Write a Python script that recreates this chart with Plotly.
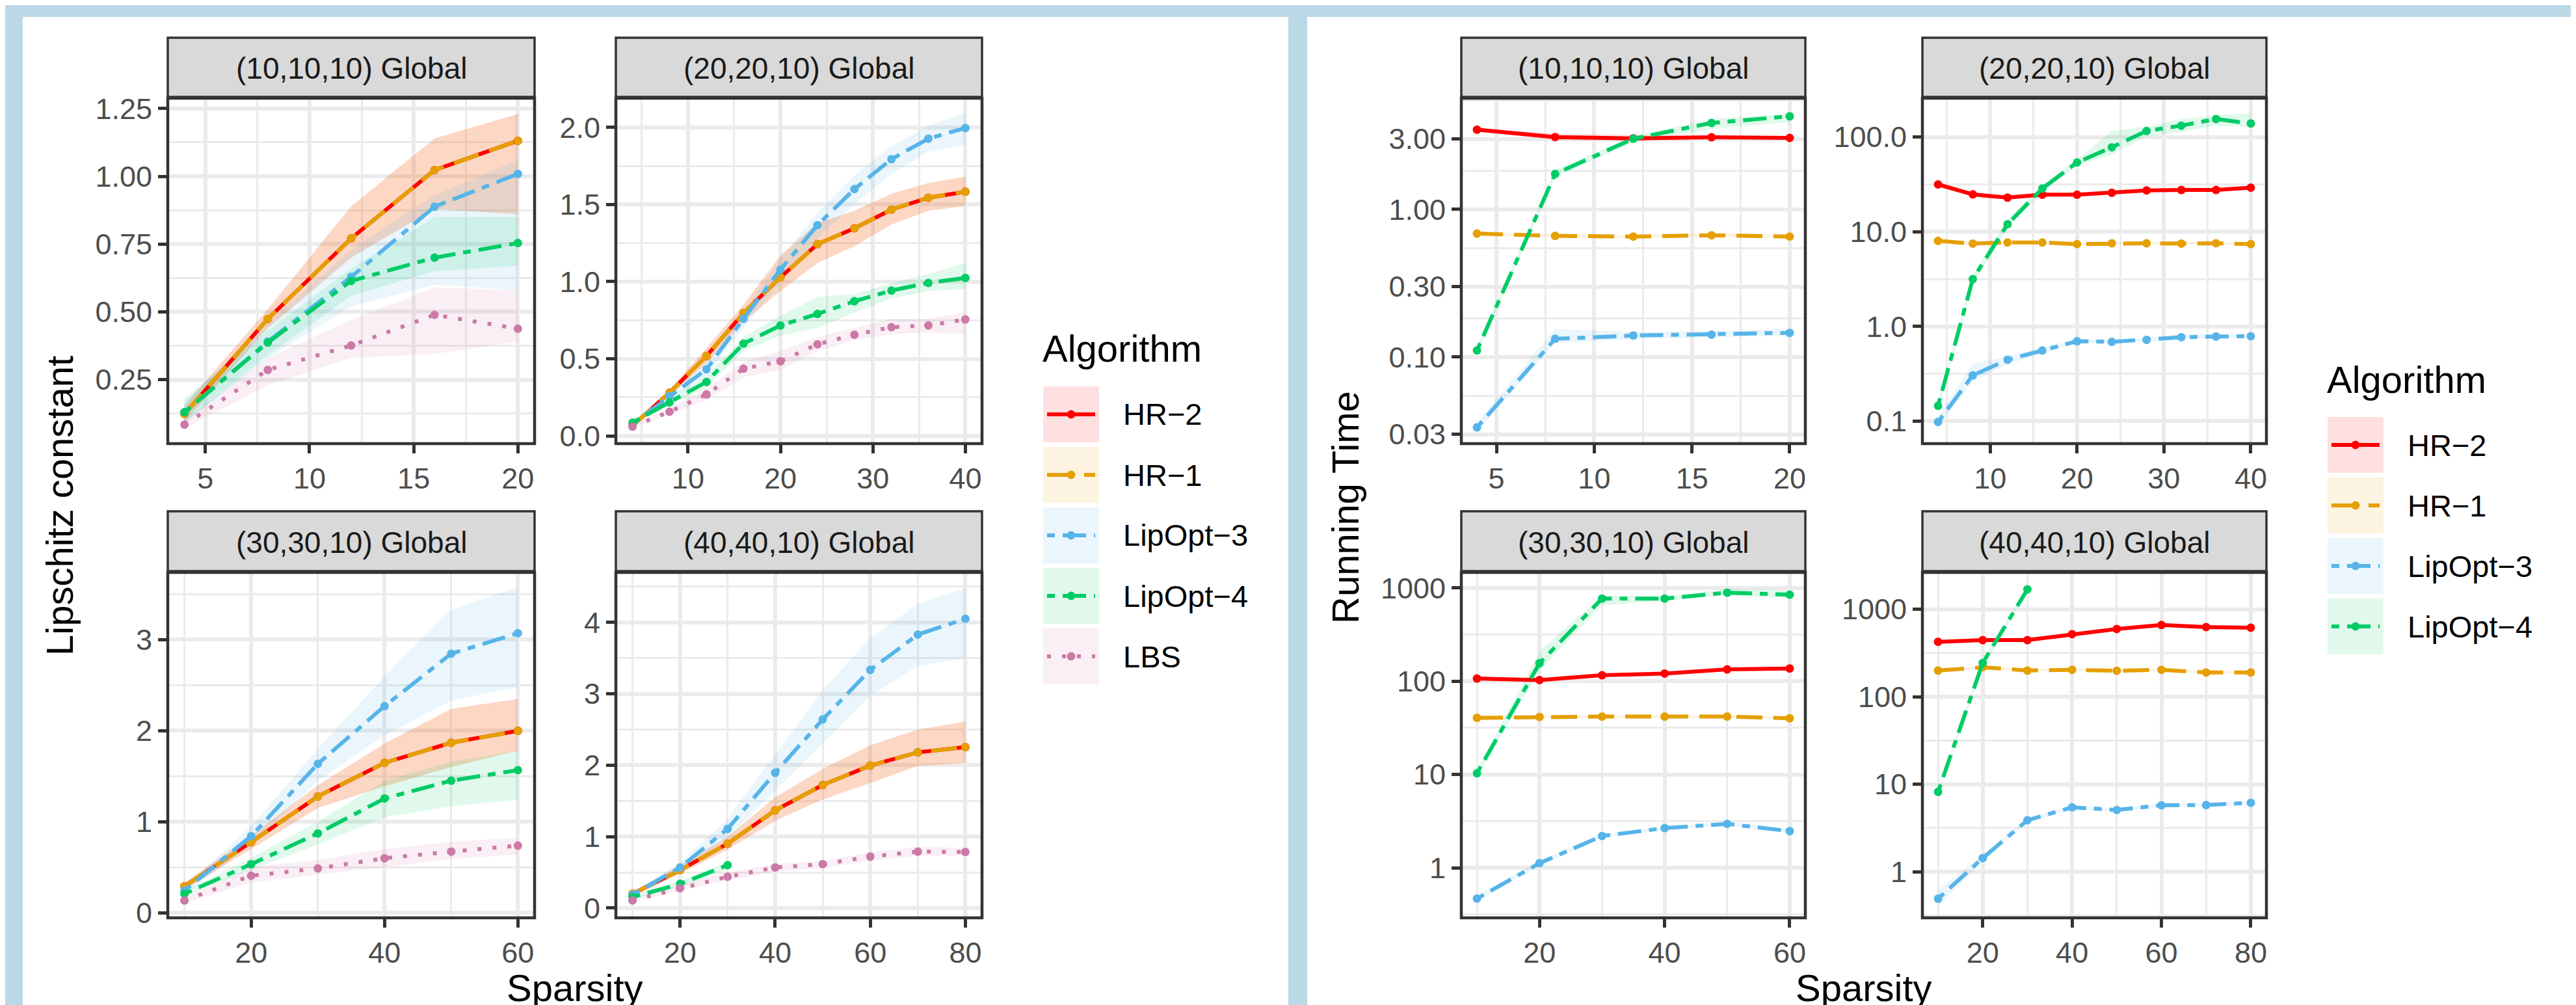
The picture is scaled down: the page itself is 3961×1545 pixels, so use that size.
import math
import plotly.graph_objects as go

# ======================= DATA =======================
ALGS = ["HR−2", "HR−1", "LipOpt−3", "LipOpt−4", "LBS"]
STRIPS = ["(10,10,10) Global", "(20,20,10) Global", "(30,30,10) Global", "(40,40,10) Global"]

# ---- Lipschitz constant (left block) ----
lip10_x = [4, 8, 12, 16, 20]
lip10_hr2 = [0.124, 0.474, 0.771, 1.023, 1.131]
lip10_hr2_lo = [0.095, 0.44, 0.70, 0.88, 0.86]
lip10_hr2_hi = [0.155, 0.51, 0.89, 1.14, 1.23]
lip10_hr1 = [0.124, 0.474, 0.771, 1.023, 1.131]
lip10_hr1_lo = [0.095, 0.44, 0.70, 0.88, 0.86]
lip10_hr1_hi = [0.155, 0.51, 0.89, 1.14, 1.23]
lip10_lo3 = [0.13, 0.39, 0.629, 0.888, 1.009]
lip10_lo3_lo = [0.09, 0.33, 0.52, 0.60, 0.58]
lip10_lo3_hi = [0.17, 0.46, 0.73, 0.93, 1.06]
lip10_lo4 = [0.13, 0.387, 0.614, 0.70, 0.754]
lip10_lo4_lo = [0.09, 0.34, 0.56, 0.65, 0.67]
lip10_lo4_hi = [0.18, 0.43, 0.66, 0.85, 0.85]
lip10_lbs = [0.084, 0.286, 0.376, 0.489, 0.438]
lip10_lbs_lo = [0.07, 0.23, 0.33, 0.345, 0.39]
lip10_lbs_hi = [0.10, 0.33, 0.47, 0.59, 0.58]

lip20_x = [4, 8, 12, 16, 20, 24, 28, 32, 36, 40]
lip20_hr2 = [0.067, 0.280, 0.518, 0.796, 1.028, 1.243, 1.346, 1.467, 1.544, 1.583]
lip20_hr2_lo = [0.055, 0.26, 0.47, 0.74, 0.94, 1.12, 1.23, 1.37, 1.46, 1.49]
lip20_hr2_hi = [0.08, 0.30, 0.57, 0.85, 1.17, 1.38, 1.46, 1.57, 1.64, 1.68]
lip20_hr1 = [0.067, 0.280, 0.518, 0.796, 1.028, 1.243, 1.346, 1.467, 1.544, 1.583]
lip20_hr1_lo = [0.055, 0.26, 0.47, 0.74, 0.94, 1.12, 1.23, 1.37, 1.46, 1.49]
lip20_hr1_hi = [0.08, 0.30, 0.57, 0.85, 1.17, 1.38, 1.46, 1.57, 1.64, 1.68]
lip20_lo3 = [0.077, 0.258, 0.432, 0.759, 1.078, 1.366, 1.600, 1.794, 1.927, 1.996]
lip20_lo3_lo = [0.065, 0.23, 0.39, 0.70, 0.99, 1.28, 1.50, 1.70, 1.84, 1.89]
lip20_lo3_hi = [0.09, 0.28, 0.47, 0.80, 1.15, 1.45, 1.69, 1.88, 2.01, 2.09]
lip20_lo4 = [0.086, 0.217, 0.350, 0.598, 0.716, 0.791, 0.873, 0.942, 0.992, 1.024]
lip20_lo4_lo = [0.075, 0.20, 0.31, 0.55, 0.65, 0.70, 0.80, 0.89, 0.94, 0.95]
lip20_lo4_hi = [0.095, 0.24, 0.39, 0.64, 0.78, 0.90, 0.92, 0.99, 1.05, 1.12]
lip20_lbs = [0.060, 0.157, 0.269, 0.436, 0.484, 0.594, 0.656, 0.705, 0.716, 0.755]
lip20_lbs_lo = [0.05, 0.14, 0.23, 0.38, 0.43, 0.55, 0.62, 0.66, 0.67, 0.66]
lip20_lbs_hi = [0.07, 0.18, 0.31, 0.48, 0.55, 0.64, 0.70, 0.76, 0.76, 0.80]

lip30_x = [10, 20, 30, 40, 50, 60]
lip30_hr2 = [0.290, 0.776, 1.277, 1.647, 1.868, 1.999]
lip30_hr2_lo = [0.25, 0.70, 1.15, 1.39, 1.60, 1.78]
lip30_hr2_hi = [0.33, 0.85, 1.40, 1.86, 2.24, 2.35]
lip30_hr1 = [0.290, 0.776, 1.277, 1.647, 1.868, 1.999]
lip30_hr1_lo = [0.25, 0.70, 1.15, 1.39, 1.60, 1.78]
lip30_hr1_hi = [0.33, 0.85, 1.40, 1.86, 2.24, 2.35]
lip30_lo3 = [0.243, 0.841, 1.636, 2.270, 2.847, 3.072]
lip30_lo3_lo = [0.20, 0.75, 1.45, 1.95, 2.33, 2.48]
lip30_lo3_hi = [0.28, 0.95, 1.80, 2.60, 3.33, 3.58]
lip30_lo4 = [0.207, 0.533, 0.871, 1.255, 1.451, 1.567]
lip30_lo4_lo = [0.18, 0.47, 0.75, 1.05, 1.17, 1.24]
lip30_lo4_hi = [0.24, 0.60, 1.00, 1.45, 1.66, 1.78]
lip30_lbs = [0.134, 0.406, 0.486, 0.598, 0.671, 0.736]
lip30_lbs_lo = [0.11, 0.33, 0.42, 0.50, 0.59, 0.64]
lip30_lbs_hi = [0.17, 0.50, 0.58, 0.70, 0.78, 0.82]

lip40_x = [10, 20, 30, 40, 50, 60, 70, 80]
lip40_x_lo4 = [10, 20, 30]
lip40_hr2 = [0.199, 0.532, 0.902, 1.368, 1.723, 1.995, 2.180, 2.254]
lip40_hr2_lo = [0.17, 0.48, 0.82, 1.22, 1.52, 1.75, 1.99, 2.03]
lip40_hr2_hi = [0.23, 0.60, 1.00, 1.55, 1.95, 2.28, 2.50, 2.61]
lip40_hr1 = [0.199, 0.532, 0.902, 1.368, 1.723, 1.995, 2.180, 2.254]
lip40_hr1_lo = [0.17, 0.48, 0.82, 1.22, 1.52, 1.75, 1.99, 2.03]
lip40_hr1_hi = [0.23, 0.60, 1.00, 1.55, 1.95, 2.28, 2.50, 2.61]
lip40_lo3 = [0.186, 0.568, 1.109, 1.894, 2.642, 3.335, 3.830, 4.051]
lip40_lo3_lo = [0.15, 0.50, 0.98, 1.65, 2.30, 2.97, 3.39, 3.50]
lip40_lo3_hi = [0.22, 0.64, 1.25, 2.15, 3.05, 3.78, 4.26, 4.48]
lip40_lo4 = [0.153, 0.338, 0.601]
lip40_lo4_lo = [0.13, 0.29, 0.54]
lip40_lo4_hi = [0.18, 0.38, 0.65]
lip40_lbs = [0.107, 0.278, 0.439, 0.568, 0.615, 0.721, 0.790, 0.786]
lip40_lbs_lo = [0.09, 0.24, 0.39, 0.51, 0.56, 0.66, 0.73, 0.73]
lip40_lbs_hi = [0.13, 0.33, 0.50, 0.62, 0.66, 0.78, 0.86, 0.84]

# ---- Running time (right block) ----
rt10_x = [4, 8, 12, 16, 20]
rt10_hr2 = [3.47, 3.09, 3.03, 3.08, 3.05]
rt10_hr2_lo = [3.35, 2.95, 2.90, 3.00, 3.00]
rt10_hr2_hi = [3.60, 3.25, 3.20, 3.15, 3.10]
rt10_hr1 = [0.686, 0.662, 0.655, 0.668, 0.655]
rt10_hr1_lo = [0.67, 0.645, 0.64, 0.65, 0.64]
rt10_hr1_hi = [0.70, 0.68, 0.67, 0.69, 0.67]
rt10_lo3 = [0.0334, 0.133, 0.140, 0.142, 0.146]
rt10_lo3_lo = [0.031, 0.125, 0.132, 0.136, 0.140]
rt10_lo3_hi = [0.036, 0.155, 0.148, 0.150, 0.155]
rt10_lo4 = [0.111, 1.74, 3.01, 3.85, 4.27]
rt10_lo4_lo = [0.105, 1.65, 2.85, 3.50, 3.90]
rt10_lo4_hi = [0.118, 1.85, 3.15, 4.10, 4.45]

rt20_x = [4, 8, 12, 16, 20, 24, 28, 32, 36, 40]
rt20_hr2 = [31.6, 24.8, 22.9, 24.6, 24.6, 25.8, 27.3, 27.6, 27.6, 29.2]
rt20_hr2_lo = [29.5, 23.5, 22.0, 23.5, 24.0, 25.0, 26.5, 27.0, 27.0, 28.2]
rt20_hr2_hi = [33.0, 26.0, 24.0, 26.0, 25.5, 26.5, 28.5, 28.5, 28.5, 30.0]
rt20_hr1 = [8.0, 7.5, 7.7, 7.7, 7.4, 7.55, 7.55, 7.5, 7.55, 7.4]
rt20_hr1_lo = [7.7, 7.2, 7.5, 7.5, 7.2, 7.3, 7.3, 7.3, 7.3, 7.2]
rt20_hr1_hi = [8.3, 7.8, 7.9, 7.9, 7.6, 7.8, 7.8, 7.8, 7.8, 7.6]
rt20_lo3 = [0.098, 0.304, 0.444, 0.557, 0.698, 0.687, 0.722, 0.769, 0.782, 0.787]
rt20_lo3_lo = [0.088, 0.26, 0.40, 0.52, 0.67, 0.66, 0.69, 0.74, 0.75, 0.76]
rt20_lo3_hi = [0.11, 0.40, 0.49, 0.60, 0.73, 0.72, 0.76, 0.83, 0.82, 0.82]
rt20_lo4 = [0.145, 3.16, 12.0, 28.6, 53.9, 78.0, 116.0, 132.0, 155.0, 139.0]
rt20_lo4_lo = [0.13, 2.8, 10.8, 26.0, 50.0, 65.0, 101.0, 113.0, 132.0, 128.0]
rt20_lo4_hi = [0.16, 3.5, 13.5, 31.0, 58.0, 116.0, 128.0, 155.0, 170.0, 177.0]

rt30_x = [10, 20, 30, 40, 50, 60]
rt30_hr2 = [107, 103, 116, 121, 134, 137]
rt30_hr2_lo = [102, 99, 112, 117, 130, 133]
rt30_hr2_hi = [112, 107, 121, 125, 139, 142]
rt30_hr1 = [40.5, 41.4, 41.8, 41.8, 41.8, 40.1]
rt30_hr1_lo = [39.0, 40.0, 40.4, 40.5, 40.5, 38.8]
rt30_hr1_hi = [42.0, 43.0, 43.3, 43.2, 43.0, 41.5]
rt30_lo3 = [0.467, 1.12, 2.19, 2.66, 2.96, 2.47]
rt30_lo3_lo = [0.44, 1.05, 2.10, 2.55, 2.85, 2.35]
rt30_lo3_hi = [0.50, 1.20, 2.30, 2.75, 3.10, 2.60]
rt30_lo4 = [10.3, 156, 770, 770, 892, 849]
rt30_lo4_lo = [9.6, 130, 650, 730, 830, 780]
rt30_lo4_hi = [11.0, 210, 830, 810, 980, 950]

rt40_x = [10, 20, 30, 40, 50, 60, 70, 80]
rt40_x_lo4 = [10, 20, 30]
rt40_hr2 = [424, 443, 443, 518, 594, 660, 625, 615]
rt40_hr2_lo = [410, 428, 428, 500, 575, 640, 605, 598]
rt40_hr2_hi = [440, 460, 460, 535, 615, 685, 645, 635]
rt40_hr1 = [199, 217, 199, 203, 198, 203, 189, 189]
rt40_hr1_lo = [193, 210, 193, 197, 192, 197, 183, 183]
rt40_hr1_hi = [205, 224, 206, 209, 204, 209, 195, 195]
rt40_lo3 = [0.492, 1.43, 3.88, 5.44, 5.08, 5.74, 5.78, 6.13]
rt40_lo3_lo = [0.40, 1.32, 3.65, 5.20, 4.85, 5.50, 5.55, 5.85]
rt40_lo3_hi = [0.62, 1.55, 4.10, 5.70, 5.30, 6.00, 6.00, 6.40]
rt40_lo4 = [8.18, 243, 1683]
rt40_lo4_lo = [7.8, 215, 1620]
rt40_lo4_hi = [8.6, 270, 1750]

# ---- tick labels ----
lip_yticks = [[0.25, 0.5, 0.75, 1.0, 1.25], [0.0, 0.5, 1.0, 1.5, 2.0], [0, 1, 2, 3], [0, 1, 2, 3, 4]]
lip_yticktext = [["0.25", "0.50", "0.75", "1.00", "1.25"], ["0.0", "0.5", "1.0", "1.5", "2.0"],
                 ["0", "1", "2", "3"], ["0", "1", "2", "3", "4"]]
rt_yticks = [[0.03, 0.1, 0.3, 1, 3], [0.1, 1, 10, 100], [1, 10, 100, 1000], [1, 10, 100, 1000]]
rt_yticktext = [["0.03", "0.10", "0.30", "1.00", "3.00"], ["0.1", "1.0", "10.0", "100.0"],
                ["1", "10", "100", "1000"], ["1", "10", "100", "1000"]]
xticks = [[5, 10, 15, 20], [10, 20, 30, 40], [20, 40, 60], [20, 40, 60, 80]]

# ======================= STYLE =======================
W, H = 3961, 1545
FONT = "Liberation Sans, Arial, Helvetica, sans-serif"
COLORS = {"HR−2": "#FF0000", "HR−1": "#E69F00", "LipOpt−3": "#56B4E9", "LipOpt−4": "#00CC66", "LBS": "#CC79A7"}
RGB = {"HR−2": (255, 0, 0), "HR−1": (230, 159, 0), "LipOpt−3": (86, 180, 233), "LipOpt−4": (0, 204, 102), "LBS": (204, 121, 167)}
DASH = {"HR−2": "solid", "HR−1": "40px,17px", "LipOpt−3": "12px,12px,36px,12px",
        "LipOpt−4": "12px,12px,36px,12px", "LBS": "6px,17px"}
ALPHA = 0.12
LW = 6
MS = 13
BG = "#BBD8E6"

def fill(alg):
    r, g, b = RGB[alg]
    return f"rgba({r},{g},{b},{ALPHA})"

def fx(p):
    return p / W

def fy(p):
    return 1 - p / H

# panel pixel boxes (left, right, top, bottom)
PANELS = [(250, 814, 143, 674), (939, 1502, 143, 674), (250, 814, 872, 1403), (939, 1502, 872, 1403),
          (2239, 2768, 143, 674), (2948, 3477, 143, 674), (2239, 2768, 872, 1403), (2948, 3477, 872, 1403)]
STRIP_Y = [(50, 141), (50, 141), (778, 870), (778, 870)] * 2
XRANGES = [[3.2, 20.8], [2.2, 41.8], [7.5, 62.5], [6.5, 83.5]]
LIP_YRANGES = [[0.014, 1.288], [-0.050, 2.189], [-0.057, 3.74], [-0.137, 4.70]]
RT_YRANGES = [[-1.586, 0.753], [-1.238, 2.41], [-0.537, 3.167], [-0.527, 3.42]]

# ======================= SERIES TABLE =======================
lip_series = [
    [("HR−2", lip10_x, lip10_hr2, lip10_hr2_lo, lip10_hr2_hi), ("HR−1", lip10_x, lip10_hr1, lip10_hr1_lo, lip10_hr1_hi),
     ("LipOpt−3", lip10_x, lip10_lo3, lip10_lo3_lo, lip10_lo3_hi), ("LipOpt−4", lip10_x, lip10_lo4, lip10_lo4_lo, lip10_lo4_hi),
     ("LBS", lip10_x, lip10_lbs, lip10_lbs_lo, lip10_lbs_hi)],
    [("HR−2", lip20_x, lip20_hr2, lip20_hr2_lo, lip20_hr2_hi), ("HR−1", lip20_x, lip20_hr1, lip20_hr1_lo, lip20_hr1_hi),
     ("LipOpt−3", lip20_x, lip20_lo3, lip20_lo3_lo, lip20_lo3_hi), ("LipOpt−4", lip20_x, lip20_lo4, lip20_lo4_lo, lip20_lo4_hi),
     ("LBS", lip20_x, lip20_lbs, lip20_lbs_lo, lip20_lbs_hi)],
    [("HR−2", lip30_x, lip30_hr2, lip30_hr2_lo, lip30_hr2_hi), ("HR−1", lip30_x, lip30_hr1, lip30_hr1_lo, lip30_hr1_hi),
     ("LipOpt−3", lip30_x, lip30_lo3, lip30_lo3_lo, lip30_lo3_hi), ("LipOpt−4", lip30_x, lip30_lo4, lip30_lo4_lo, lip30_lo4_hi),
     ("LBS", lip30_x, lip30_lbs, lip30_lbs_lo, lip30_lbs_hi)],
    [("HR−2", lip40_x, lip40_hr2, lip40_hr2_lo, lip40_hr2_hi), ("HR−1", lip40_x, lip40_hr1, lip40_hr1_lo, lip40_hr1_hi),
     ("LipOpt−3", lip40_x, lip40_lo3, lip40_lo3_lo, lip40_lo3_hi), ("LipOpt−4", lip40_x_lo4, lip40_lo4, lip40_lo4_lo, lip40_lo4_hi),
     ("LBS", lip40_x, lip40_lbs, lip40_lbs_lo, lip40_lbs_hi)],
]
rt_series = [
    [("HR−2", rt10_x, rt10_hr2, rt10_hr2_lo, rt10_hr2_hi), ("HR−1", rt10_x, rt10_hr1, rt10_hr1_lo, rt10_hr1_hi),
     ("LipOpt−3", rt10_x, rt10_lo3, rt10_lo3_lo, rt10_lo3_hi), ("LipOpt−4", rt10_x, rt10_lo4, rt10_lo4_lo, rt10_lo4_hi)],
    [("HR−2", rt20_x, rt20_hr2, rt20_hr2_lo, rt20_hr2_hi), ("HR−1", rt20_x, rt20_hr1, rt20_hr1_lo, rt20_hr1_hi),
     ("LipOpt−3", rt20_x, rt20_lo3, rt20_lo3_lo, rt20_lo3_hi), ("LipOpt−4", rt20_x, rt20_lo4, rt20_lo4_lo, rt20_lo4_hi)],
    [("HR−2", rt30_x, rt30_hr2, rt30_hr2_lo, rt30_hr2_hi), ("HR−1", rt30_x, rt30_hr1, rt30_hr1_lo, rt30_hr1_hi),
     ("LipOpt−3", rt30_x, rt30_lo3, rt30_lo3_lo, rt30_lo3_hi), ("LipOpt−4", rt30_x, rt30_lo4, rt30_lo4_lo, rt30_lo4_hi)],
    [("HR−2", rt40_x, rt40_hr2, rt40_hr2_lo, rt40_hr2_hi), ("HR−1", rt40_x, rt40_hr1, rt40_hr1_lo, rt40_hr1_hi),
     ("LipOpt−3", rt40_x, rt40_lo3, rt40_lo3_lo, rt40_lo3_hi), ("LipOpt−4", rt40_x_lo4, rt40_lo4, rt40_lo4_lo, rt40_lo4_hi)],
]
all_series = lip_series + rt_series

fig = go.Figure()

for i, series in enumerate(all_series):
    k = i + 1
    xa = "x" if k == 1 else f"x{k}"
    ya = "y" if k == 1 else f"y{k}"
    for alg, xs, ys, lo, hi in series:
        fig.add_trace(go.Scatter(x=list(xs) + list(xs)[::-1], y=list(hi) + list(lo)[::-1], xaxis=xa, yaxis=ya,
                                 mode="lines", fill="toself", fillcolor=fill(alg), line=dict(width=0),
                                 hoverinfo="skip", showlegend=False))
    for alg, xs, ys, lo, hi in series:
        fig.add_trace(go.Scatter(x=xs, y=ys, xaxis=xa, yaxis=ya, mode="lines+markers", name=alg,
                                 line=dict(color=COLORS[alg], width=LW, dash=DASH[alg]),
                                 marker=dict(color=COLORS[alg], size=MS), showlegend=False))

# ======================= AXES =======================
GRID = "#EBEBEB"
TICKFONT = dict(family=FONT, size=45, color="#4D4D4D")

def minor_lin(ticks):
    step = ticks[1] - ticks[0]
    return [ticks[0] - step / 2] + [t + step / 2 for t in ticks]

def minor_log(ticks):
    ratio = ticks[1] / ticks[0]
    return [ticks[0] / math.sqrt(ratio)] + [t * math.sqrt(ratio) for t in ticks]

layout_axes = {}
for i in range(8):
    k = i + 1
    xl, xr, yt, yb = PANELS[i]
    facet = i % 4
    xkey = "xaxis" if k == 1 else f"xaxis{k}"
    ykey = "yaxis" if k == 1 else f"yaxis{k}"
    xa = "x" if k == 1 else f"x{k}"
    ya = "y" if k == 1 else f"y{k}"
    common = dict(showgrid=True, gridcolor=GRID, gridwidth=5.5, zeroline=False, showline=False,
                  ticks="outside", ticklen=14, tickwidth=4.5, tickcolor="#333333", automargin=False,
                  tickfont=TICKFONT, tickmode="array", fixedrange=True)
    layout_axes[xkey] = dict(common, domain=[fx(xl), fx(xr)], anchor=ya, range=XRANGES[facet],
                             tickvals=xticks[facet], ticktext=[str(v) for v in xticks[facet]],
                             minor=dict(tickmode="array", tickvals=minor_lin(xticks[facet]), showgrid=True,
                                        gridcolor=GRID, gridwidth=3, ticks=""))
    if i < 4:
        layout_axes[ykey] = dict(common, domain=[fy(yb), fy(yt)], anchor=xa, range=LIP_YRANGES[facet],
                                 tickvals=lip_yticks[facet], ticktext=lip_yticktext[facet],
                                 minor=dict(tickmode="array", tickvals=minor_lin(lip_yticks[facet]), showgrid=True,
                                            gridcolor=GRID, gridwidth=3, ticks=""))
    else:
        layout_axes[ykey] = dict(common, type="log", domain=[fy(yb), fy(yt)], anchor=xa, range=RT_YRANGES[facet],
                                 tickvals=rt_yticks[facet], ticktext=rt_yticktext[facet],
                                 minor=dict(tickmode="array", tickvals=minor_log(rt_yticks[facet]), showgrid=True,
                                            gridcolor=GRID, gridwidth=3, ticks=""))

shapes = []
annotations = []

# white backgrounds of both blocks (extend past the bottom edge)
for x0, x1 in [(27, 1973), (2002, 3948)]:
    shapes.append(dict(type="rect", xref="paper", yref="paper", x0=fx(x0), x1=fx(x1), y0=-0.05, y1=fy(18),
                       fillcolor="white", line=dict(width=0), layer="below"))

# panel borders and strips
for i in range(8):
    xl, xr, yt, yb = PANELS[i]
    st, sb = STRIP_Y[i]
    shapes.append(dict(type="rect", xref="paper", yref="paper", x0=fx(xl), x1=fx(xr), y0=fy(yb), y1=fy(yt),
                       fillcolor="rgba(0,0,0,0)", line=dict(color="#333333", width=4.5), layer="above"))
    shapes.append(dict(type="rect", xref="paper", yref="paper", x0=fx(xl), x1=fx(xr), y0=fy(sb), y1=fy(st),
                       fillcolor="#D9D9D9", line=dict(color="#333333", width=3.5), layer="above"))
    annotations.append(dict(text=STRIPS[i % 4], xref="paper", yref="paper", x=fx((xl + xr) / 2),
                            y=fy((st + sb) / 2 + 2), xanchor="center", yanchor="middle", showarrow=False,
                            font=dict(family=FONT, size=46, color="#1A1A1A")))

TITLEFONT = dict(family=FONT, size=58, color="black")
annotations += [
    dict(text="Lipschitz constant", xref="paper", yref="paper", x=fx(83), y=fy(770), textangle=-90,
         xanchor="center", yanchor="middle", showarrow=False, font=TITLEFONT),
    dict(text="Running Time", xref="paper", yref="paper", x=fx(2060), y=fy(772), textangle=-90,
         xanchor="center", yanchor="middle", showarrow=False, font=TITLEFONT),
    dict(text="Sparsity", xref="paper", yref="paper", x=fx(876), y=fy(1544), borderpad=0,
         xanchor="center", yanchor="bottom", showarrow=False, font=TITLEFONT),
    dict(text="Sparsity", xref="paper", yref="paper", x=fx(2858), y=fy(1544), borderpad=0,
         xanchor="center", yanchor="bottom", showarrow=False, font=TITLEFONT),
]

# legends (ggplot-style keys)
def legend(x0, title_y, key_top, algs):
    annotations.append(dict(text="Algorithm", xref="paper", yref="paper", x=fx(x0 - 3), y=fy(title_y),
                            xanchor="left", yanchor="middle", showarrow=False, font=TITLEFONT))
    for j, alg in enumerate(algs):
        top = key_top + 93 * j
        bot = top + 86
        cy = (top + bot) / 2
        shapes.append(dict(type="rect", xref="paper", yref="paper", x0=fx(x0), x1=fx(x0 + 86), y0=fy(bot), y1=fy(top),
                           fillcolor=fill(alg), line=dict(width=0), layer="above"))
        shapes.append(dict(type="line", xref="paper", yref="paper", x0=fx(x0 + 6), x1=fx(x0 + 80), y0=fy(cy), y1=fy(cy),
                           line=dict(color=COLORS[alg], width=LW, dash=DASH[alg]), layer="above"))
        cx = x0 + 43
        shapes.append(dict(type="circle", xref="paper", yref="paper", x0=fx(cx - 6.5), x1=fx(cx + 6.5),
                           y0=fy(cy + 6.5), y1=fy(cy - 6.5), fillcolor=COLORS[alg], line=dict(width=0), layer="above"))
        annotations.append(dict(text=alg, xref="paper", yref="paper", x=fx(x0 + 121), y=fy(cy),
                                xanchor="left", yanchor="middle", showarrow=False,
                                font=dict(family=FONT, size=47, color="black")))

legend(1596, 528, 586, ALGS)
legend(3571, 575, 633, ALGS[:4])

fig.update_layout(template="none", width=W, height=H, autosize=False, margin=dict(l=0, r=0, t=0, b=0, pad=0),
                  paper_bgcolor=BG, plot_bgcolor="white", showlegend=False,
                  font=dict(family=FONT), shapes=shapes, annotations=annotations, **layout_axes)

fig.write_html("out.html")
